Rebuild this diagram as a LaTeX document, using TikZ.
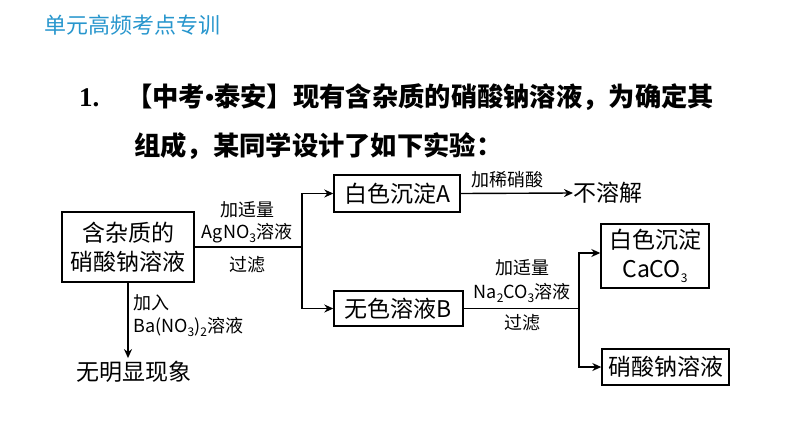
\documentclass[tikz,border=0pt]{standalone}
\usepackage{fontspec}
\usetikzlibrary{arrows.meta,calc}
\setmainfont{Liberation Serif}
\newfontfamily\cjk{Noto Sans CJK SC}
\definecolor{hdrblue}{RGB}{40,150,205}
\newcommand\chsub[1]{\raisebox{-0.22em}{\fontsize{12}{12}\selectfont #1}}
\tikzset{
  box/.style={draw,line width=1.4pt,inner sep=0pt,align=center,
    font=\cjk\fontsize{23}{29}\selectfont},
  lbl/.style={inner sep=0pt,font=\cjk\fontsize{18}{22}\selectfont},
  conn/.style={line width=1.4pt},
  arr/.style={conn,-{Stealth[length=9pt,width=8pt]}},
}
\begin{document}
\begin{tikzpicture}[x=1pt,y=-1pt]
\useasboundingbox (0,0) rectangle (794,447);
% header
\node[anchor=west,inner sep=0pt,text=hdrblue,font=\cjk\fontsize{22}{26}\selectfont] (hdr) at (44,25) {单元高频考点专训};
% title
\node[anchor=west,inner sep=0pt,font=\bfseries\fontsize{27}{30}\selectfont] (num) at (79,98) {1.};
\node[anchor=west,inner sep=0pt,font=\cjk\bfseries\fontsize{26.3}{30}\selectfont] (t1) at (126,97) {【中考{\rmfamily\bfseries\textbullet}泰安】现有含杂质的硝酸钠溶液，为确定其};
\node[anchor=west,inner sep=0pt,font=\cjk\bfseries\fontsize{26.3}{30}\selectfont] (t2) at (134,146) {组成，某同学设计了如下实验：};
% boxes
\node[box,minimum width=132pt,minimum height=70pt] (src) at (128,247) {含杂质的\\硝酸钠溶液};
\node[box,minimum width=126pt,minimum height=37pt] (A) at (397,193.5) {白色沉淀A};
\node[box,minimum width=129pt,minimum height=35pt] (B) at (398.5,308.5) {无色溶液B};
\node[box,minimum width=108pt,minimum height=64pt] (C) at (655,256) {白色沉淀\\CaCO\chsub{3}};
\node[box,minimum width=127pt,minimum height=36pt] (D) at (665.5,367) {硝酸钠溶液};
% plain texts
\node[anchor=west,inner sep=0pt,font=\cjk\fontsize{23}{28}\selectfont] (nr) at (573,193) {不溶解};
\node[inner sep=0pt,font=\cjk\fontsize{23}{28}\selectfont] (xm) at (134,372) {无明显现象};
% junctions
\coordinate (jx) at (302,0);
\coordinate (j1) at (src.east -| jx);
\coordinate (kx) at (579,0);
\coordinate (j2) at (B.east -| kx);
% connectors
\draw[conn] (src.east) -- (j1);
\draw[arr] (j1) |- (A.west);
\draw[arr] (j1) |- (B.west);
\draw[arr] (A.east) -- (nr.west);
\draw[arr] (src.south) -- ($(src.south |- xm.north)+(0,-3)$);
\draw[conn] (B.east) -- (j2);
\draw[arr] (j2) |- ([yshift=3pt]C.west);
\draw[arr] (j2) |- (D.west);
% labels
\node[lbl] (l1) at (247,210) {加适量};
\node[lbl] (l2) at (247,233) {AgNO\chsub{3}溶液};
\node[lbl] (l3) at (247,265) {过滤};
\node[lbl,anchor=west] (l4) at (133,303) {加入};
\node[lbl,anchor=west] (l5) at (133,327) {Ba(NO\chsub{3})\chsub{2}溶液};
\node[lbl] (l6) at (507,180) {加稀硝酸};
\node[lbl] (l7) at (522,268) {加适量};
\node[lbl] (l8) at (522,293) {Na\chsub{2}CO\chsub{3}溶液};
\node[lbl] (l9) at (522,323) {过滤};
\end{tikzpicture}
\end{document}
